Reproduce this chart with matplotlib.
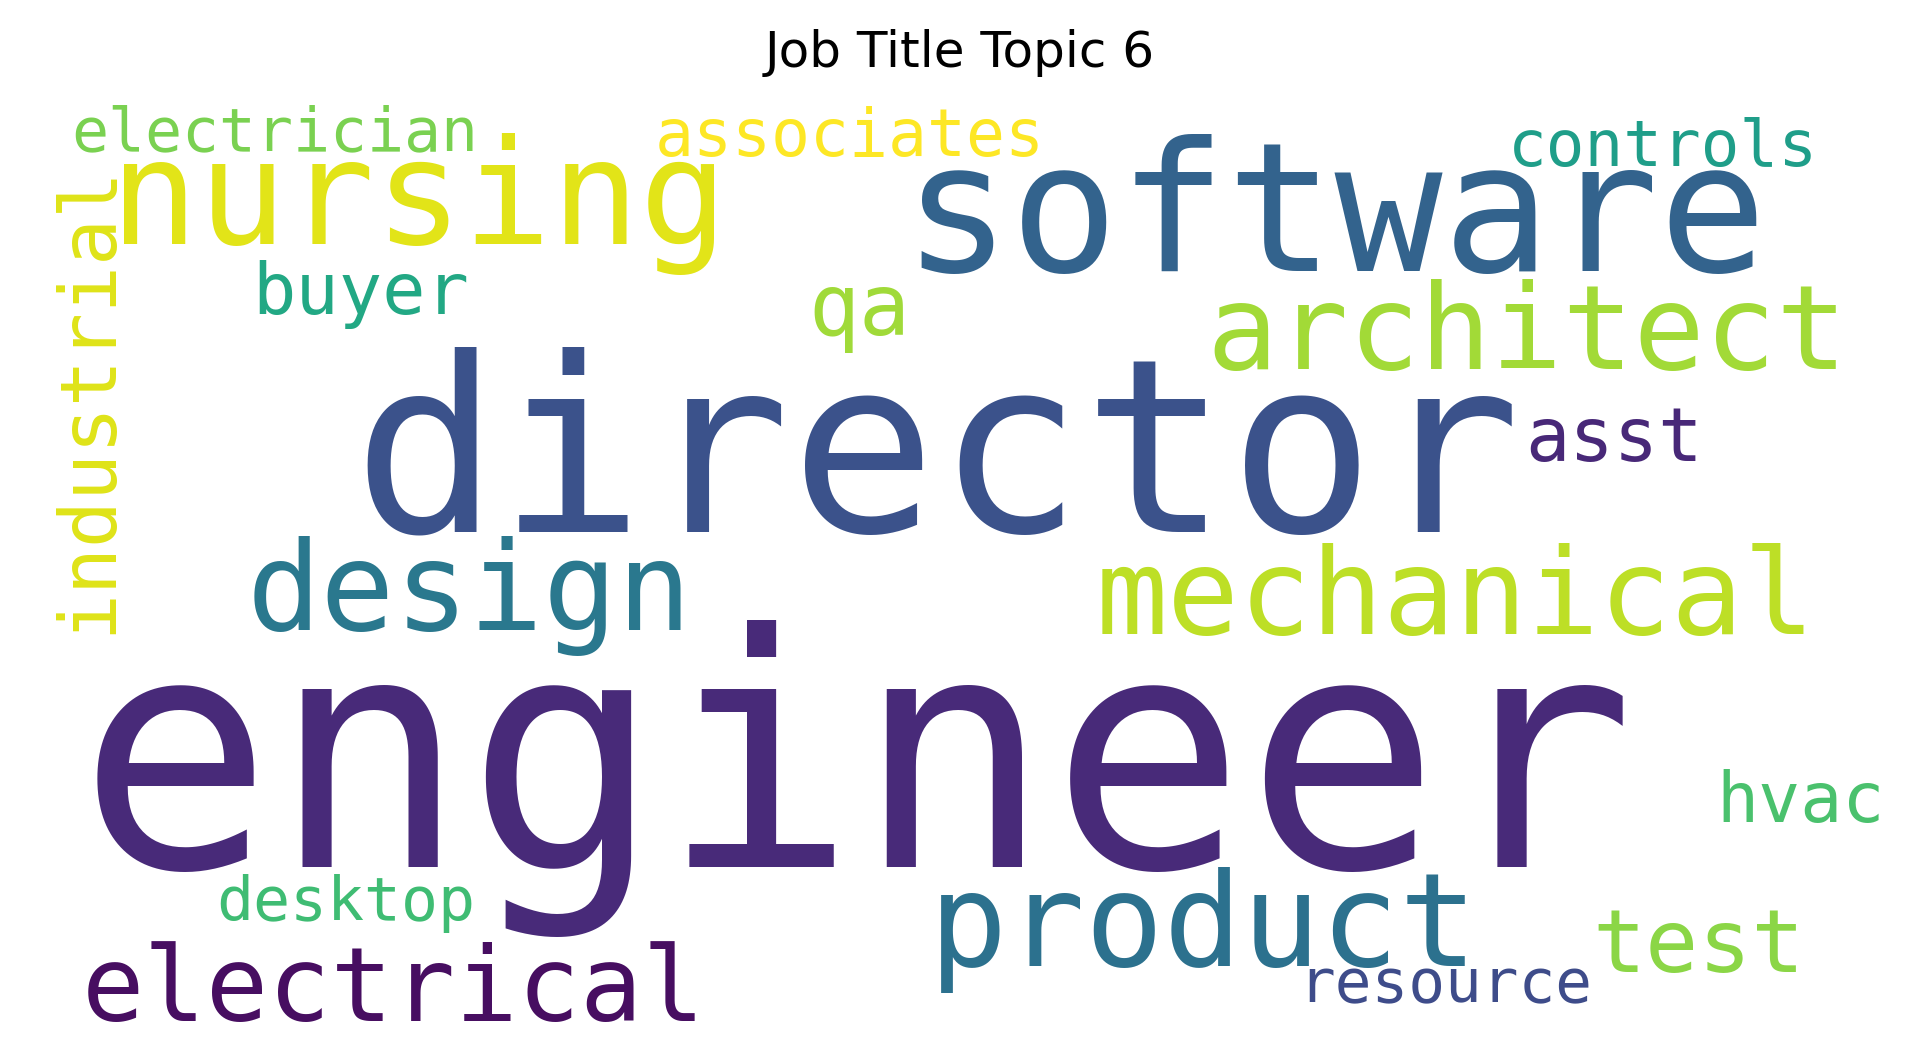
import matplotlib
matplotlib.use("Agg")
from matplotlib import pyplot as plt

# Word cloud data: words and their relative weights (biggest = 1)
words = ['engineer', 'director', 'software', 'nursing', 'architect', 'mechanical',
         'design', 'product', 'electrical', 'industrial', 'electrician', 'associates',
         'controls', 'buyer', 'qa', 'asst', 'hvac', 'desktop', 'test', 'resource']
weights = [1.0, 0.75, 0.555, 0.453, 0.366, 0.37,
           0.381, 0.403, 0.32, 0.241, 0.19, 0.2,
           0.199, 0.223, 0.262, 0.228, 0.216, 0.19, 0.273, 0.189]
colors = ['#482a79', '#3b528b', '#33638d', '#e2e418', '#a2da37', '#bddf26',
          '#2a788e', '#2c718e', '#470e61', '#dfe318', '#7ad151', '#fde725',
          '#1f9e89', '#22a884', '#a0da39', '#482878', '#4ac16d', '#3fbc73',
          '#8bd646', '#3e4c8a']

# layout of the cloud (left x, baseline y, rotation) in a 1560 x 856 frame
layout = {
    'engineer': (75, 705, 0), 'director': (295, 432, 0), 'software': (740, 220, 0),
    'nursing': (95, 198, 0), 'architect': (985, 300, 0), 'mechanical': (895, 515, 0),
    'design': (205, 512, 0), 'product': (760, 785, 0), 'electrical': (70, 830, 0),
    'industrial': (90, 515, 90), 'electrician': (60, 122, 0), 'associates': (535, 127, 0),
    'controls': (1228, 135, 0), 'buyer': (208, 255, 0), 'qa': (660, 272, 0),
    'asst': (1243, 375, 0), 'hvac': (1398, 668, 0), 'desktop': (178, 748, 0),
    'test': (1298, 790, 0), 'resource': (1058, 815, 0),
}

W, H = 1560, 856
max_em = 263          # em size of the largest word, in frame units
px = 1919 / W         # frame unit -> output pixel

fig = plt.figure(figsize=(19.19, 10.53), dpi=100)
ax = fig.add_axes([0, 0, 1, 1])
ax.set_xlim(0, W)
ax.set_ylim(H, 0)
ax.axis('off')

for word, wgt, col in zip(words, weights, colors):
    x, y, rot = layout[word]
    em = wgt * max_em
    if rot == 0:
        x -= 0.045 * em   # side bearing of the mono font
    ax.text(x, y, word, fontsize=em * px * 72 / fig.dpi, color=col,
            family='DejaVu Sans Mono', ha='left', va='baseline',
            rotation=rot, rotation_mode='anchor')

fig.text(0.5, 1 - 43 / H, 'Job Title Topic 6', fontsize=36, ha='center', va='center')

fig.savefig('out.png', dpi=100, facecolor='white')
